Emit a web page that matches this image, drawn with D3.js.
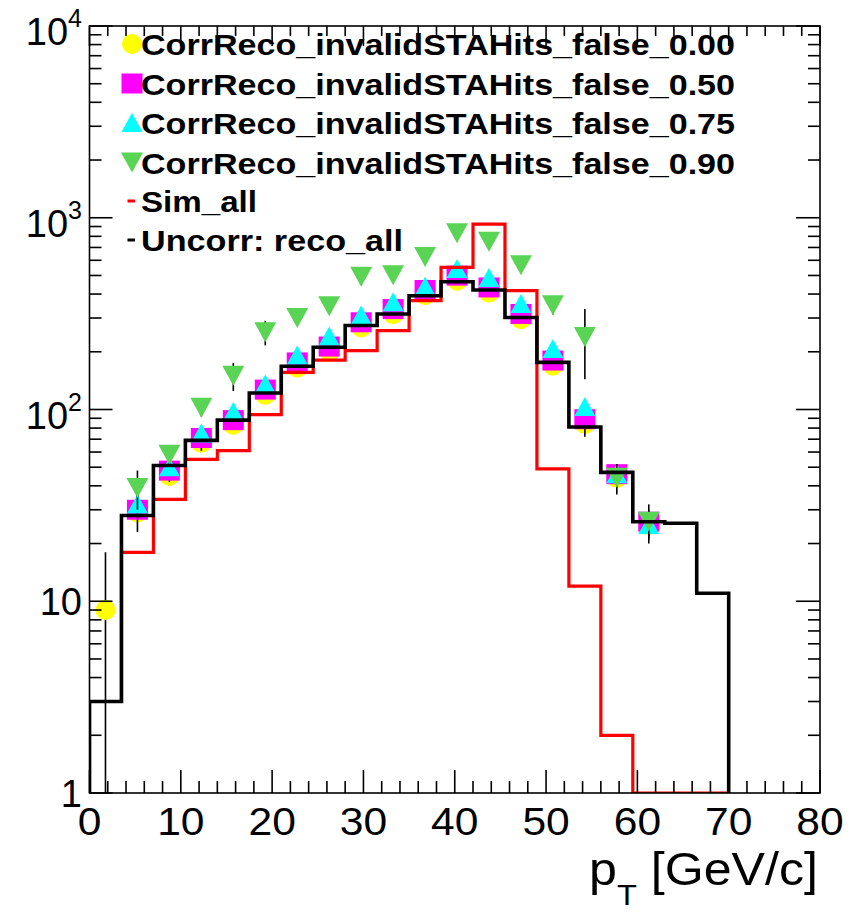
<!DOCTYPE html>
<html><head><meta charset="utf-8">
<script src="https://cdn.jsdelivr.net/npm/d3@7"></script>
<style>body{margin:0;background:#fff}svg{display:block}text{font-family:"Liberation Sans",Arial,sans-serif}</style>
</head><body>
<svg id="c" width="854" height="912"></svg>
<script>
// ---- data ----
const binWidth = 3.5;
const nBins = 20;
const simAll     = [3, 18, 34, 55, 61, 94, 156, 181, 203, 258, 370, 551, 927, 417, 49, 12, 2, 1, 1, 1];
const uncorrReco = [3, 28, 51, 69, 88, 122, 168, 211, 274, 315, 392, 464, 420, 302, 176, 81, 47, 26, 25.5, 11];
const corr000 = [9, 29, 45, 67, 83, 119, 165, 200, 268, 314, 395, 469, 407, 296, 169, 84, 44, 25];
const corr050 = [0, 30, 48, 71, 88, 127, 176, 213, 285, 334, 420, 499, 433, 315, 180, 89, 46, 26];
const corr075 = [0, 32, 50, 75, 97, 135, 191, 240, 309, 362, 437, 540, 485, 355, 207, 103, 46, 25];
const corr090 = [0, 39, 58, 102, 150, 253, 300, 346, 492, 502, 625, 831, 749, 566, 350, 239, 44, 26];
const err000 = [9, 3, 4, 5, 5, 6, 8, 9, 10, 11, 12, 13, 12, 11, 8, 6, 4, 3];
const err050 = [0, 7, 6, 10, 8, 8, 9, 10, 12, 13, 14, 15, 14, 12, 9, 17, 5, 4];
const err075 = [0, 5, 5, 6, 7, 8, 10, 11, 12, 13, 15, 16, 15, 13, 10, 8, 5, 4];
const err090 = [0, 9, 7, 10, 25, 37, 20, 22, 28, 28, 35, 40, 38, 33, 37, 95, 8, 6];
const legendLabels = ["CorrReco_invalidSTAHits_false_0.00","CorrReco_invalidSTAHits_false_0.50",
  "CorrReco_invalidSTAHits_false_0.75","CorrReco_invalidSTAHits_false_0.90","Sim_all","Uncorr: reco_all"];
const xTickLabels = ["0","10","20","30","40","50","60","70","80"];
const yDecades = [0, 1, 2, 3, 4];

// ---- scales ----
const svg = d3.select("#c");
const L = 89.5, R = 820, T = 26, B = 793;
const x = d3.scaleLinear().domain([0, 80]).range([L, R]);
const y = d3.scaleLog().domain([1, 1e4]).range([B, T]);
const yc = v => y(Math.max(1, Math.min(1e4, v)));

svg.append("defs").append("clipPath").attr("id","clip")
  .append("rect").attr("x",L).attr("y",T).attr("width",R-L).attr("height",B-T);
const plot = svg.append("g").attr("clip-path","url(#clip)");

// markers
const shapes = {
  circle: (g, cx, cy, col) => g.append("circle").attr("cx",cx).attr("cy",cy).attr("r",10).attr("fill",col),
  square: (g, cx, cy, col) => g.append("rect").attr("x",cx-10.5).attr("y",cy-10).attr("width",21).attr("height",20).attr("fill",col),
  up: (g, cx, cy, col) => g.append("path").attr("d",`M${cx-10.5},${cy+9}L${cx+10.5},${cy+9}L${cx},${cy-10}Z`).attr("fill",col),
  down: (g, cx, cy, col) => g.append("path").attr("d",`M${cx-11},${cy-10}L${cx+11},${cy-10}L${cx},${cy+10}Z`).attr("fill",col)
};
const series = [
  {vals: corr000, err: err000, shape: "circle", col: "#ffff00"},
  {vals: corr050, err: err050, shape: "square", col: "#ff00ff"},
  {vals: corr075, err: err075, shape: "up", col: "#00ffff"},
  {vals: corr090, err: err090, shape: "down", col: "#59d454"}
];
const center = i => x((i + 0.5) * binWidth);
series.forEach(s => {
  const g = plot.append("g");
  s.vals.forEach((v, i) => {
    if (v <= 0) return;
    const e = s.err[i];
    g.append("line").attr("x1",center(i)).attr("x2",center(i))
      .attr("y1",yc(v - e)).attr("y2",yc(v + e)).attr("stroke","#000").attr("stroke-width",1.6);
    shapes[s.shape](g, center(i), y(v), s.col);
  });
});

// histograms
function histPts(vals) {
  const pts = [[0, 1]];
  vals.forEach((v, i) => { pts.push([i * binWidth, v]); pts.push([(i + 1) * binWidth, v]); });
  pts.push([nBins * binWidth, 1]);
  return pts;
}
const line = d3.line().x(d => x(d[0])).y(d => yc(d[1]));
plot.append("path").attr("d", line(histPts(simAll))).attr("fill","none").attr("stroke","#ff0000").attr("stroke-width",3.2);
plot.append("path").attr("d", line(histPts(uncorrReco))).attr("fill","none").attr("stroke","#000").attr("stroke-width",3.6);

// frame & ticks
const ax = svg.append("g").attr("stroke","#000").attr("stroke-width",1.6);
ax.append("rect").attr("x",L).attr("y",T).attr("width",R-L).attr("height",B-T).attr("fill","none");
d3.range(0, 81, 2).forEach(v => {
  const major = v % 10 === 0;
  ax.append("line").attr("x1",x(v)).attr("x2",x(v)).attr("y1",B).attr("y2",B-(major?23:12));
  ax.append("line").attr("x1",x(v)).attr("x2",x(v)).attr("y1",T).attr("y2",T+(major?20:10));
});
yDecades.forEach(d => {
  const base = Math.pow(10, d);
  ax.append("line").attr("x1",L).attr("x2",L+23).attr("y1",y(base)).attr("y2",y(base));
  ax.append("line").attr("x1",R).attr("x2",R-24).attr("y1",y(base)).attr("y2",y(base));
  if (d < 4) d3.range(2, 10).forEach(k => {
    ax.append("line").attr("x1",L).attr("x2",L+12).attr("y1",y(k*base)).attr("y2",y(k*base));
    ax.append("line").attr("x1",R).attr("x2",R-12).attr("y1",y(k*base)).attr("y2",y(k*base));
  });
});

// tick labels
xTickLabels.forEach((t, i) => {
  svg.append("text").attr("transform",`translate(${x(i*10)},835) scale(1.12,1)`)
    .attr("text-anchor","middle").attr("font-size",38).text(t);
});
yDecades.forEach(d => {
  const ty = y(Math.pow(10, d));
  if (d === 0) {
    svg.append("text").attr("x",82).attr("y",ty+14).attr("text-anchor","end").attr("font-size",38).text("1");
  } else if (d === 1) {
    svg.append("text").attr("x",82).attr("y",ty+14).attr("text-anchor","end").attr("font-size",38).text("10");
  } else {
    const t = svg.append("text").attr("x",82).attr("y",ty+19).attr("text-anchor","end").attr("font-size",38);
    t.append("tspan").text("10");
    t.append("tspan").attr("font-size",25).attr("dy",-18).text(String(d));
  }
});

// axis title
const ttl = svg.append("text").attr("transform","translate(818,885) scale(1.09,1)")
  .attr("text-anchor","end").attr("font-size",46);
ttl.append("tspan").text("p");
ttl.append("tspan").attr("font-size",30).attr("dy",20).text("T");
ttl.append("tspan").attr("dy",-20).text(" [GeV/c]");

// legend
const legY = [44, 83.5, 123, 162.5, 201, 240];
const lg = svg.append("g");
legendLabels.forEach((lab, i) => {
  const cy = legY[i];
  if (i < 4) shapes[series[i].shape](lg, 132, cy, series[i].col);
  else lg.append("line").attr("x1",127.5).attr("x2",135).attr("y1",cy).attr("y2",cy)
        .attr("stroke", i===4 ? "#ff0000" : "#000").attr("stroke-width",3);
  const t = lg.append("text").attr("x",141).attr("y",cy+11).attr("font-size",30).attr("font-weight","bold").text(lab);
  if (i < 4) t.attr("textLength",594).attr("lengthAdjust","spacingAndGlyphs");
  else if (i === 4) t.attr("textLength",116).attr("lengthAdjust","spacingAndGlyphs");
  else t.attr("textLength",262).attr("lengthAdjust","spacingAndGlyphs");
});
</script>
</body></html>
